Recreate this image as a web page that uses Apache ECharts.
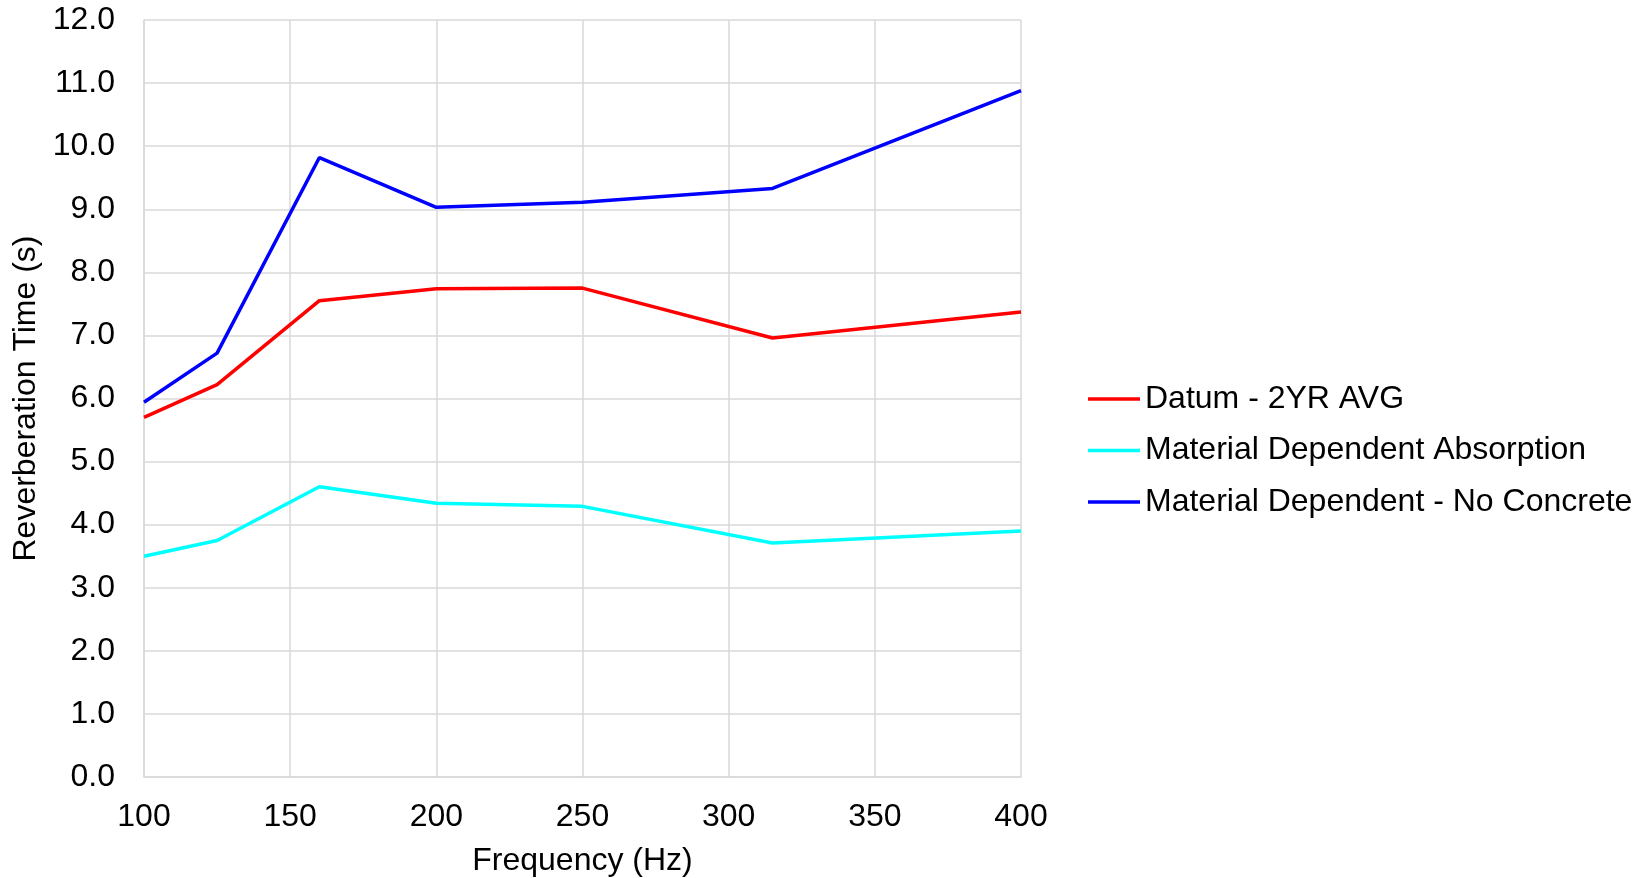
<!DOCTYPE html>
<html>
<head>
<meta charset="utf-8">
<script src="https://cdn.jsdelivr.net/npm/echarts@6/dist/echarts.min.js"></script>
<style>
  html, body { margin: 0; padding: 0; background: #fff; }
  #chart { width: 1648px; height: 878px; }
</style>
</head>
<body>
<div id="chart"></div>
<script>
// Third-octave band centre frequencies (Hz)
const frequencies = [100, 125, 160, 200, 250, 315, 400];

// Reverberation time (s) per band
const datum2yrAvg = [5.70, 6.22, 7.55, 7.74, 7.75, 6.96, 7.37];
const materialDependentAbsorption = [3.50, 3.75, 4.60, 4.34, 4.29, 3.71, 3.90];
const materialDependentNoConcrete = [5.94, 6.72, 9.82, 9.03, 9.11, 9.33, 10.88];

const seriesNames = [
  'Datum - 2YR AVG',
  'Material Dependent Absorption',
  'Material Dependent - No Concrete'
];
const seriesColors = ['#ff0000', '#00ffff', '#0000ff'];
const seriesValues = [datum2yrAvg, materialDependentAbsorption, materialDependentNoConcrete];

const FONT = '"Liberation Sans", Arial, sans-serif';
const FONT_SIZE = 32;
const gridColor = '#d9d9d9';

const chart = echarts.init(document.getElementById('chart'), null, { renderer: 'canvas' });

chart.setOption({
  backgroundColor: '#ffffff',
  animation: false,
  textStyle: { fontFamily: FONT },
  grid: {
    left: 144, right: 627, top: 20, bottom: 101,
    containLabel: false,
    outerBoundsMode: 'none'
  },
  legend: {
    orient: 'vertical',
    left: 1083,
    top: 378,
    itemWidth: 52,
    itemHeight: 3.5,
    itemGap: 19.5,
    icon: 'rect',
    textStyle: { fontFamily: FONT, fontSize: FONT_SIZE, color: '#000', lineHeight: 32 },
    data: seriesNames
  },
  xAxis: {
    type: 'value',
    min: 100,
    max: 400,
    interval: 50,
    name: 'Frequency (Hz)',
    nameLocation: 'middle',
    nameGap: 68,
    nameTextStyle: { fontFamily: FONT, fontSize: FONT_SIZE, color: '#000' },
    axisLine: { show: true, lineStyle: { color: gridColor, width: 1.5 } },
    axisTick: { show: false },
    axisLabel: { fontFamily: FONT, fontSize: FONT_SIZE, color: '#000', margin: 24 },
    splitLine: { show: true, lineStyle: { color: gridColor, width: 1.5 } }
  },
  yAxis: {
    type: 'value',
    min: 0,
    max: 12,
    interval: 1,
    name: 'Reverberation Time (s)',
    nameLocation: 'middle',
    nameGap: 95,
    nameTextStyle: { fontFamily: FONT, fontSize: FONT_SIZE, color: '#000' },
    axisLine: { show: true, lineStyle: { color: gridColor, width: 1.5 } },
    axisTick: { show: false },
    axisLabel: {
      fontFamily: FONT, fontSize: FONT_SIZE, color: '#000', margin: 29,
      formatter: v => v.toFixed(1)
    },
    splitLine: { show: true, lineStyle: { color: gridColor, width: 1.5 } }
  },
  series: seriesNames.map((name, i) => ({
    name: name,
    type: 'line',
    data: frequencies.map((f, j) => [f, seriesValues[i][j]]),
    symbol: 'none',
    color: seriesColors[i],
    lineStyle: { color: seriesColors[i], width: 3.5 },
    z: 3 - i
  }))
});
</script>
</body>
</html>
